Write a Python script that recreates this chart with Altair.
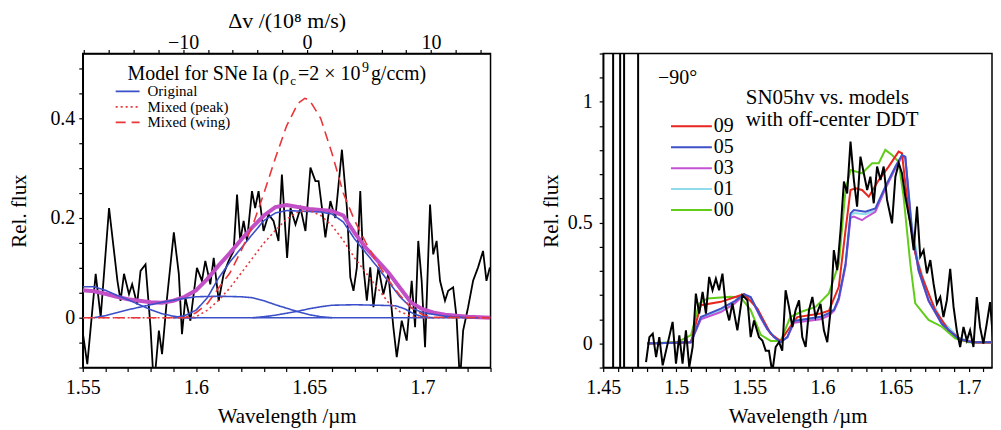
import json
import altair as alt
import pandas as pd

FONT = "Liberation Serif"

# ---------------- Left panel data ----------------
obs_l_wl = [1.5500, 1.5520, 1.5557, 1.5579, 1.5616, 1.5653, 1.5667, 1.5682, 1.5704, 1.5718,
            1.5740, 1.5755, 1.5777, 1.5799, 1.5814, 1.5836, 1.5850, 1.5872, 1.5902, 1.5924,
            1.5938, 1.5953, 1.5975, 1.6004, 1.6026, 1.6041, 1.6063, 1.6078, 1.6100, 1.6122,
            1.6144, 1.6166, 1.6181, 1.6195, 1.6210, 1.6225, 1.6247, 1.6261, 1.6276, 1.6298,
            1.6320, 1.6342, 1.6364, 1.6379, 1.6402, 1.6417, 1.6439, 1.6461, 1.6483, 1.6505,
            1.6527, 1.6541, 1.6556, 1.6571, 1.6593, 1.6615, 1.6644, 1.6666, 1.6681, 1.6695,
            1.6710, 1.6725, 1.6739, 1.6754, 1.6769, 1.6783, 1.6805, 1.6827, 1.6849, 1.6871,
            1.6886, 1.6908, 1.6930, 1.6952, 1.6967, 1.6981, 1.6996, 1.7011, 1.7033, 1.7047,
            1.7062, 1.7077, 1.7099, 1.7113, 1.7135, 1.7150, 1.7165, 1.7179, 1.7201, 1.7223,
            1.7245, 1.7267, 1.7282, 1.7297]
obs_l_fx = [-0.030, -0.093, 0.088, 0.001, 0.220, 0.074, 0.034, 0.088, 0.047, 0.067,
            0.027, 0.094, 0.107, -0.019, -0.140, -0.026, -0.073, 0.040, 0.171, 0.088,
            -0.033, 0.040, -0.006, 0.100, 0.074, 0.114, 0.067, 0.120, 0.034, 0.088,
            0.114, 0.134, 0.247, 0.154, 0.194, 0.154, 0.254, 0.220, 0.254, 0.174,
            0.207, 0.194, 0.154, 0.287, 0.120, 0.220, 0.187, 0.220, 0.174, 0.301,
            0.274, 0.274, 0.220, 0.161, 0.234, 0.200, 0.337, 0.220, 0.081, 0.054,
            0.101, 0.254, 0.101, 0.034, 0.101, 0.021, 0.101, 0.047, 0.088, -0.019,
            -0.079, -0.006, -0.046, 0.074, -0.019, 0.154, 0.074, -0.059, 0.227, 0.127,
            0.154, 0.074, 0.034, 0.054, 0.061, 0.001, -0.130, -0.026, 0.021, 0.074,
            0.101, 0.134, 0.074, 0.101]

sum_l_wl = [1.55, 1.555, 1.56, 1.565, 1.57, 1.575, 1.58, 1.585, 1.59, 1.595, 1.60, 1.605,
            1.61, 1.615, 1.62, 1.625, 1.63, 1.635, 1.64, 1.645, 1.65, 1.655, 1.66, 1.665,
            1.67, 1.675, 1.68, 1.685, 1.69, 1.695, 1.70, 1.705, 1.71, 1.72, 1.73]
sum_l_fx = [0.055, 0.053, 0.048, 0.042, 0.037, 0.034, 0.031, 0.030, 0.034, 0.042, 0.055, 0.078,
            0.105, 0.130, 0.157, 0.182, 0.205, 0.222, 0.226, 0.222, 0.218, 0.216, 0.214, 0.205,
            0.170, 0.140, 0.115, 0.090, 0.060, 0.030, 0.017, 0.010, 0.006, 0.002, 0.000]

orig_main_wl = [1.59, 1.595, 1.60, 1.605, 1.61, 1.615, 1.62, 1.625, 1.63, 1.635, 1.64, 1.645,
                1.65, 1.655, 1.66, 1.665, 1.67, 1.675, 1.68, 1.685, 1.69, 1.695, 1.70, 1.71, 1.72]
orig_main_fx = [0.000, 0.004, 0.015, 0.040, 0.080, 0.112, 0.140, 0.168, 0.195, 0.210, 0.215, 0.214,
                0.213, 0.212, 0.208, 0.192, 0.158, 0.130, 0.102, 0.072, 0.042, 0.020, 0.010, 0.003, 0.000]
orig_left_wl = [1.55, 1.555, 1.56, 1.565, 1.57, 1.575, 1.58, 1.585, 1.59, 1.595, 1.60]
orig_left_fx = [0.062, 0.062, 0.055, 0.045, 0.036, 0.026, 0.016, 0.008, 0.003, 0.000, 0.000]
orig_flat_wl = [1.555, 1.56, 1.565, 1.57, 1.575, 1.58, 1.585, 1.59, 1.595, 1.60, 1.61, 1.62,
                1.625, 1.63, 1.635, 1.64, 1.645, 1.65, 1.655, 1.66]
orig_flat_fx = [0.000, 0.004, 0.010, 0.016, 0.021, 0.026, 0.031, 0.035, 0.039, 0.042, 0.043, 0.042,
                0.040, 0.034, 0.026, 0.019, 0.012, 0.006, 0.002, 0.000]
orig_right_wl = [1.625, 1.63, 1.635, 1.64, 1.645, 1.65, 1.655, 1.66, 1.67, 1.68, 1.688, 1.692,
                 1.696, 1.70, 1.705]
orig_right_fx = [0.000, 0.002, 0.005, 0.009, 0.013, 0.018, 0.022, 0.025, 0.026, 0.025, 0.024, 0.018,
                 0.008, 0.002, 0.000]
orig_zero_wl = [1.59, 1.725]
orig_zero_fx = [0.0, 0.0]

peak_wl = [1.55, 1.598, 1.60, 1.605, 1.61, 1.615, 1.62, 1.625, 1.63, 1.635, 1.64, 1.645, 1.65,
           1.655, 1.66, 1.665, 1.67, 1.675, 1.68, 1.685, 1.69, 1.695, 1.70, 1.73]
peak_fx = [0.0, 0.0, 0.002, 0.015, 0.035, 0.060, 0.090, 0.120, 0.150, 0.175, 0.198, 0.212, 0.215,
           0.205, 0.185, 0.155, 0.120, 0.090, 0.060, 0.030, 0.012, 0.003, 0.0, 0.0]
wing_wl = [1.55, 1.595, 1.60, 1.605, 1.61, 1.615, 1.62, 1.625, 1.63, 1.635, 1.64, 1.645, 1.648,
           1.65, 1.655, 1.66, 1.665, 1.67, 1.675, 1.68, 1.685, 1.69, 1.695, 1.70, 1.705, 1.73]
wing_fx = [0.0, 0.0, 0.010, 0.028, 0.060, 0.090, 0.135, 0.185, 0.250, 0.320, 0.385, 0.430, 0.440,
           0.437, 0.400, 0.330, 0.250, 0.195, 0.150, 0.110, 0.075, 0.045, 0.020, 0.006, 0.001, 0.0]

left_models = ["Original", "Mixed (peak)", "Mixed (wing)"]
left_colors = ["#3a4fc8", "#e8363a", "#e8363a"]
left_dashes = [[1, 0], [2, 3], [10, 6]]

# ticks
xl_ticks = [1.55, 1.56, 1.57, 1.58, 1.59, 1.6, 1.61, 1.62, 1.63, 1.64, 1.65, 1.66, 1.67,
            1.68, 1.69, 1.7, 1.71, 1.72, 1.73]
xl_labels = [1.55, 1.6, 1.65, 1.7]
yl_ticks = [-0.1, -0.05, 0, 0.05, 0.1, 0.15, 0.2, 0.25, 0.3, 0.35, 0.4, 0.45, 0.5]
yl_labels = [0, 0.2, 0.4]
vel_ticks = [-18, -16, -14, -12, -10, -8, -6, -4, -2, 0, 2, 4, 6, 8, 10, 12, 14]
vel_labels = [-10, 0, 10]

# ---------------- Right panel data ----------------
obs_r_wl = [1.4793, 1.4816, 1.4839, 1.4862, 1.4884, 1.4907, 1.4941, 1.4975, 1.4998, 1.5021,
            1.5043, 1.5066, 1.5089, 1.5112, 1.5134, 1.5157, 1.5180, 1.5203, 1.5225, 1.5248,
            1.5271, 1.5293, 1.5316, 1.5339, 1.5362, 1.5384, 1.5418, 1.5452, 1.5487, 1.5509,
            1.5532, 1.5566, 1.5589, 1.5612, 1.5634, 1.5657, 1.5680, 1.5703, 1.5725, 1.5748,
            1.5771, 1.5794, 1.5816, 1.5840, 1.5862, 1.5885, 1.5908, 1.5931, 1.5953, 1.5987,
            1.6010, 1.6033, 1.6056, 1.6078, 1.6101, 1.6124, 1.6147, 1.6169, 1.6192, 1.6215,
            1.6237, 1.6260, 1.6283, 1.6306, 1.6328, 1.6351, 1.6374, 1.6397, 1.6419, 1.6442,
            1.6476, 1.6499, 1.6522, 1.6544, 1.6567, 1.6601, 1.6624, 1.6647, 1.6669, 1.6692,
            1.6715, 1.6738, 1.6760, 1.6783, 1.6806, 1.6828, 1.6851, 1.6874, 1.6897, 1.6919,
            1.6942, 1.6965, 1.6988, 1.7010, 1.7033, 1.7056, 1.7078, 1.7101, 1.7124, 1.7147,
            1.7169, 1.7180, 1.7203, 1.7221]
obs_r_fx = [-0.078, 0.026, 0.040, -0.057, 0.026, -0.091, -0.001, 0.089, -0.084, 0.033,
            -0.084, 0.054, -0.098, -0.015, 0.206, 0.123, 0.213, 0.123, 0.275, 0.220,
            0.268, 0.220, 0.289, 0.151, 0.095, 0.165, 0.054, 0.200, 0.178, 0.026,
            0.095, 0.026, 0.012, -0.030, -0.030, -0.120, -0.015, 0.005, -0.030, 0.220,
            0.151, 0.068, 0.137, 0.178, 0.026, -0.015, 0.137, 0.192, 0.109, 0.164,
            0.054, 0.005, 0.137, 0.386, 0.303, 0.469, 0.670, 0.621, 0.835, 0.676,
            0.566, 0.773, 0.704, 0.635, 0.690, 0.580, 0.732, 0.676, 0.732, 0.594,
            0.497, 0.690, 0.746, 0.704, 0.607, 0.497, 0.386, 0.566, 0.359, 0.386,
            0.290, 0.345, 0.248, 0.164, 0.192, 0.109, 0.178, 0.309, 0.151, 0.054,
            -0.015, 0.068, 0.012, 0.054, -0.015, 0.192, 0.068, -0.001, 0.082, 0.171,
            -0.001, -0.120, -0.015, 0.068]
spike_wl = [1.4568, 1.4616, 1.4643, 1.4739]

m01_wl = [1.48, 1.51, 1.5168, 1.5305, 1.54, 1.5464, 1.5509, 1.5578, 1.5623, 1.5669, 1.5714, 1.576,
          1.5805, 1.5987, 1.6044, 1.608, 1.6112, 1.6158, 1.6192, 1.6215, 1.6294, 1.6362, 1.643,
          1.6499, 1.6544, 1.6567, 1.6612, 1.6658, 1.6726, 1.6817, 1.693, 1.7021, 1.72]
m01_fx = [0.0, 0.005, 0.105, 0.138, 0.170, 0.202, 0.190, 0.107, 0.060, 0.026, 0.006, 0.026,
          0.090, 0.105, 0.120, 0.140, 0.185, 0.325, 0.530, 0.540, 0.535, 0.550, 0.640,
          0.725, 0.772, 0.765, 0.490, 0.330, 0.200, 0.095, 0.025, 0.007, 0.005]
m03_wl = [1.48, 1.51, 1.5168, 1.5305, 1.54, 1.5464, 1.5509, 1.5578, 1.5623, 1.5669, 1.5714, 1.576,
          1.5805, 1.5987, 1.6044, 1.608, 1.6112, 1.6158, 1.6192, 1.6215, 1.6271, 1.6294, 1.6362,
          1.643, 1.6499, 1.6544, 1.6567, 1.6612, 1.6658, 1.6726, 1.6817, 1.693, 1.7021, 1.72]
m03_fx = [0.0, 0.005, 0.100, 0.130, 0.165, 0.200, 0.190, 0.105, 0.058, 0.025, 0.006, 0.025,
          0.085, 0.100, 0.115, 0.135, 0.180, 0.320, 0.520, 0.525, 0.510, 0.520, 0.545,
          0.640, 0.725, 0.775, 0.768, 0.460, 0.300, 0.175, 0.080, 0.019, 0.005, 0.005]
m00_wl = [1.48, 1.501, 1.5101, 1.5157, 1.5214, 1.5373, 1.5441, 1.5509, 1.5578, 1.5646, 1.5714,
          1.578, 1.5851, 1.5953, 1.6044, 1.6112, 1.6158, 1.6192, 1.6271, 1.634, 1.6385, 1.643,
          1.6476, 1.6521, 1.6555, 1.6601, 1.6635, 1.6726, 1.6817, 1.6908, 1.6999, 1.72]
m00_fx = [0.0, 0.006, 0.034, 0.166, 0.186, 0.193, 0.190, 0.138, 0.035, 0.010, 0.010,
          0.109, 0.130, 0.151, 0.207, 0.330, 0.635, 0.718, 0.704, 0.746, 0.746, 0.801,
          0.780, 0.752, 0.607, 0.330, 0.166, 0.097, 0.069, 0.021, 0.005, 0.003]
m09_wl = [1.48, 1.51, 1.5168, 1.5305, 1.5419, 1.5464, 1.5555, 1.5646, 1.5714, 1.578, 1.5828,
          1.5987, 1.6044, 1.6112, 1.6158, 1.6192, 1.6226, 1.6271, 1.6317, 1.6385, 1.6453, 1.6521,
          1.6544, 1.659, 1.6635, 1.6681, 1.6771, 1.6862, 1.6953, 1.705, 1.72]
m09_fx = [0.0, 0.005, 0.158, 0.172, 0.195, 0.204, 0.144, 0.040, 0.010, 0.070, 0.109,
          0.124, 0.135, 0.234, 0.469, 0.635, 0.642, 0.635, 0.607, 0.676, 0.732, 0.794,
          0.787, 0.538, 0.372, 0.276, 0.138, 0.055, 0.014, 0.004, 0.004]
m05_wl = [1.48, 1.51, 1.5168, 1.5305, 1.54, 1.5464, 1.5509, 1.5578, 1.5623, 1.5669, 1.5714, 1.576,
          1.5805, 1.5987, 1.6044, 1.608, 1.6112, 1.6158, 1.6192, 1.6215, 1.6294, 1.6362, 1.643,
          1.6499, 1.6544, 1.6567, 1.6612, 1.6658, 1.6726, 1.6817, 1.693, 1.7021, 1.72]
m05_fx = [0.0, 0.005, 0.109, 0.144, 0.175, 0.204, 0.192, 0.109, 0.060, 0.026, 0.006, 0.026,
          0.093, 0.110, 0.125, 0.140, 0.190, 0.330, 0.538, 0.552, 0.545, 0.559, 0.649,
          0.732, 0.780, 0.773, 0.469, 0.303, 0.178, 0.081, 0.019, 0.005, 0.005]

right_models = ["09", "05", "03", "01", "00"]
right_colors = ["#e8251f", "#3f51c8", "#c452d4", "#8fdcea", "#62cc1a"]

xr_ticks = [1.45, 1.46, 1.47, 1.48, 1.49, 1.5, 1.51, 1.52, 1.53, 1.54, 1.55, 1.56, 1.57, 1.58,
            1.59, 1.6, 1.61, 1.62, 1.63, 1.64, 1.65, 1.66, 1.67, 1.68, 1.69, 1.7, 1.71]
xr_labels = [1.45, 1.5, 1.55, 1.6, 1.65, 1.7]
yr_ticks = [-0.1, 0, 0.1, 0.2, 0.3, 0.4, 0.5, 0.6, 0.7, 0.8, 0.9, 1, 1.1, 1.2]
yr_labels = [0, 0.5, 1]

# ---------------- helpers ----------------
WL, HH, WR = 409, 315, 390


def axis(title, values, labeled, orient, lpad, tpad, **kw):
    expr = "indexof(%s, datum.value) >= 0 ? datum.label : ''" % json.dumps(labeled)
    return alt.Axis(title=title, orient=orient, values=values, labelExpr=expr, format="~g",
                    labelPadding=lpad, titlePadding=tpad, grid=False, labelFlush=False,
                    labelOverlap=False, **kw)


def txt(s, x, y, size, align="left", baseline="alphabetic"):
    return alt.Chart(pd.DataFrame({"t": [s]})).mark_text(
        font=FONT, fontSize=size, align=align, baseline=baseline, color="black"
    ).encode(text="t:N", x=alt.value(x), y=alt.value(y))


def long_df(series, key):
    rows = []
    for name, model, wl, fx in series:
        for a, b in zip(wl, fx):
            rows.append({"series": name, key: model, "wl": a, "fx": b})
    return pd.DataFrame(rows)


# ---------------- Left panel ----------------
xl = alt.X("wl:Q", scale=alt.Scale(domain=[1.55, 1.73], nice=False, zero=False),
           axis=axis("Wavelength /µm", xl_ticks, xl_labels, "bottom", 6, 8))
yl = alt.Y("fx:Q", scale=alt.Scale(domain=[-0.1, 0.53], nice=False, zero=False),
           axis=axis("Rel. flux", yl_ticks, yl_labels, "left", 4, 20))

lcolor = alt.Scale(domain=left_models, range=left_colors)
ldash = alt.Scale(domain=left_models, range=left_dashes)

obs_l = alt.Chart(pd.DataFrame({"wl": obs_l_wl, "fx": obs_l_fx})).mark_line(
    color="black", strokeWidth=1.8, clip=True).encode(x=xl, y=yl)
sum_l = alt.Chart(pd.DataFrame({"wl": sum_l_wl, "fx": sum_l_fx})).mark_line(
    color="#c24fc6", strokeWidth=4, clip=True).encode(x=xl, y=yl)
mod_df = long_df([
    ("main", "Original", orig_main_wl, orig_main_fx),
    ("left", "Original", orig_left_wl, orig_left_fx),
    ("flat", "Original", orig_flat_wl, orig_flat_fx),
    ("right", "Original", orig_right_wl, orig_right_fx),
    ("zero", "Original", orig_zero_wl, orig_zero_fx),
    ("peak", "Mixed (peak)", peak_wl, peak_fx),
    ("wing", "Mixed (wing)", wing_wl, wing_fx),
], "model")
mod_l = alt.Chart(mod_df).mark_line(strokeWidth=1.6, clip=True).encode(
    x=xl, y=yl,
    color=alt.Color("model:N", scale=lcolor, legend=None),
    strokeDash=alt.StrokeDash("model:N", scale=ldash, legend=None),
    detail="series:N")
left_data = alt.layer(obs_l, sum_l, mod_l)

leg_y_l = alt.Y("model:N", scale=alt.Scale(type="point", domain=left_models, range=[38, 69], padding=0),
                axis=None)
leg_l_df = pd.DataFrame({"model": left_models})
leg_l_rule = alt.Chart(leg_l_df).mark_rule(strokeWidth=1.8).encode(
    x=alt.value(33), x2=alt.value(57), y=leg_y_l,
    color=alt.Color("model:N", scale=lcolor, legend=None),
    strokeDash=alt.StrokeDash("model:N", scale=ldash, legend=None))
leg_l_text = alt.Chart(leg_l_df).mark_text(font=FONT, fontSize=15, align="left", baseline="middle",
                                           color="black").encode(
    x=alt.value(65), y=leg_y_l, text="model:N")
left_leg = alt.layer(leg_l_rule, leg_l_text)

vel = alt.Chart(pd.DataFrame({"v": vel_ticks})).mark_point(opacity=0).encode(
    x=alt.X("v:Q", scale=alt.Scale(domain=[-18.1, 14.8], nice=False, zero=False),
            axis=axis("Δv /(10⁸ m/s)", vel_ticks, vel_labels, "top", -3, 0, titleFontSize=22)),
    y=alt.value(0))

left_txt = alt.layer(
    txt("Model for SNe Ia (ρ", 207, 27, 20, align="right"),
    txt("c", 208, 32, 13),
    txt("=2 × 10", 216, 27, 20),
    txt("9", 280, 19, 14),
    txt("g/ccm)", 289, 27, 20),
)

left = alt.layer(left_data, left_leg, vel, left_txt).resolve_scale(
    x="independent", y="independent").properties(width=WL, height=HH)

# ---------------- Right panel ----------------
xr = alt.X("wl:Q", scale=alt.Scale(domain=[1.45, 1.716], nice=False, zero=False),
           axis=axis("Wavelength /µm", xr_ticks, xr_labels, "bottom", 6, 8))
yr = alt.Y("fx:Q", scale=alt.Scale(domain=[-0.1, 1.2], nice=False, zero=False),
           axis=axis("Rel. flux", yr_ticks, yr_labels, "left", 7, 6))
rcolor = alt.Scale(domain=right_models, range=right_colors)

rmod_df = long_df([
    ("01", "01", m01_wl, m01_fx),
    ("03", "03", m03_wl, m03_fx),
    ("00", "00", m00_wl, m00_fx),
    ("09", "09", m09_wl, m09_fx),
    ("05", "05", m05_wl, m05_fx),
], "code")
mod_r = alt.Chart(rmod_df).mark_line(strokeWidth=2, clip=True).encode(
    x=xr, y=yr, color=alt.Color("code:N", scale=rcolor, legend=None), detail="series:N")
obs_r = alt.Chart(pd.DataFrame({"wl": obs_r_wl, "fx": obs_r_fx})).mark_line(
    color="black", strokeWidth=2, clip=True).encode(x=xr, y=yr)
spikes = alt.Chart(pd.DataFrame({"wl": spike_wl})).mark_rule(
    color="black", strokeWidth=2).encode(x=xr)
right_data = alt.layer(mod_r, obs_r, spikes)

leg_y_r = alt.Y("code:N", scale=alt.Scale(type="point", domain=right_models, range=[73, 157], padding=0),
                axis=None)
leg_r_df = pd.DataFrame({"code": right_models})
leg_r_rule = alt.Chart(leg_r_df).mark_rule(strokeWidth=2).encode(
    x=alt.value(68), x2=alt.value(109), y=leg_y_r,
    color=alt.Color("code:N", scale=rcolor, legend=None))
leg_r_text = alt.Chart(leg_r_df).mark_text(font=FONT, fontSize=20, align="left", baseline="middle",
                                           color="black").encode(
    x=alt.value(111), y=leg_y_r, text="code:N")
right_leg = alt.layer(leg_r_rule, leg_r_text)

right_txt = alt.layer(
    txt("−90°", 55, 31, 20),
    txt("SN05hv vs. models", 143, 51, 21),
    txt("with off-center DDT", 143, 73, 21),
)

right = alt.layer(right_data, right_leg, right_txt).resolve_scale(
    y="independent").properties(width=WR, height=HH)

chart = alt.hconcat(left, right, spacing=113, bounds="flush").resolve_scale(
    color="independent", strokeDash="independent"
).properties(
    padding={"left": 0, "top": 0, "right": 0, "bottom": 0}, background="white"
).configure_view(stroke="black", strokeWidth=1.5).configure_axis(
    labelFont=FONT, labelFontSize=20, labelColor="black",
    titleFont=FONT, titleFontSize=21, titleFontWeight="normal", titleColor="black",
    domainColor="black", domainWidth=1.5, tickColor="black", tickSize=4, tickWidth=1.2,
)

chart.save("out.html", embed_options={"renderer": "svg", "actions": False})
